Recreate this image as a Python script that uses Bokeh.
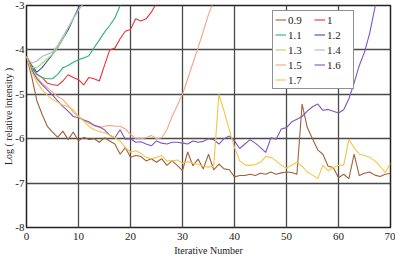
from bokeh.plotting import figure
from bokeh.models import Legend, LegendItem, Range1d, FixedTicker
from bokeh.embed import file_html
from bokeh.resources import INLINE

labels = ["0.9", "1", "1.1", "1.2", "1.3", "1.4", "1.5", "1.6", "1.7"]
colors = ["#A0603A", "#E8323C", "#2DB37A", "#3C4FA8", "#A6D96A",
          "#A9B8CC", "#F4A582", "#7E57C2", "#F6C445"]

s09 = [-4.15, -4.6, -5.15, -5.45, -5.72, -5.85, -5.97, -5.83, -6.02, -5.85,
       -6.05, -5.97, -6.02, -6.0, -6.08, -5.98, -6.05, -6.12, -6.35, -6.2,
       -6.42, -6.38, -6.4, -6.5, -6.45, -6.53, -6.45, -6.6, -6.5, -6.6,
       -6.72, -6.3, -6.61, -6.46, -6.68, -6.35, -6.7, -6.57, -6.68, -6.7,
       -6.86, -6.83, -6.83, -6.8, -6.83, -6.78, -6.8, -6.75, -6.8, -6.77,
       -6.75, -6.76, -6.8, -5.22, -5.75, -6.0, -6.25, -6.35, -6.62, -6.65,
       -6.88, -6.8, -6.9, -6.35, -6.83, -6.78, -6.75, -6.82, -6.85, -6.8, -6.78]
s10 = [-4.15, -4.4, -4.55, -4.62, -4.75, -4.78, -4.8, -4.7, -4.56, -4.62,
       -4.67, -4.79, -4.62, -4.65, -4.7, -4.35, -4.0, -3.96, -3.75, -3.58,
       -3.54, -3.3, -3.35, -3.3, -3.15, -2.95]
s11 = [-4.15, -4.4, -4.55, -4.62, -4.65, -4.65, -4.55, -4.4, -4.35, -4.28,
       -4.22, -4.18, -4.13, -3.95, -3.78, -3.6, -3.45, -3.28, -3.0, -2.8]
s12 = [-4.15, -4.35, -4.5, -4.4, -4.25, -4.1, -3.95, -3.75, -3.55, -3.3,
       -3.05, -2.8]
s13 = [-4.15, -4.4, -4.4, -4.3, -4.2, -4.1, -3.95, -3.75, -3.5, -3.3,
       -3.1, -2.95]
s14 = [-4.15, -4.3, -4.25, -4.15, -4.1, -4.05, -3.9, -3.7, -3.5, -3.3,
       -3.1, -2.95]
s15 = [-4.15, -4.45, -4.62, -4.75, -4.85, -4.95, -5.05, -5.12, -5.25, -5.4,
       -5.5, -5.58, -5.65, -5.7, -5.75, -5.72, -5.7, -5.72, -5.72, -5.78,
       -5.9, -6.0, -6.0, -5.98, -5.93, -6.0, -5.98, -5.8, -5.5, -5.25,
       -5.0, -4.65, -4.3, -3.95, -3.58, -3.2, -2.9]
s16 = [-4.15, -4.45, -4.65, -4.78, -4.9, -5.02, -5.15, -5.27, -5.38, -5.5,
       -5.53, -5.58, -5.62, -5.7, -5.73, -5.8, -5.92, -5.98, -5.8, -6.01,
       -6.0, -6.08, -6.07, -6.12, -6.16, -6.05, -6.1, -6.12, -6.08, -6.08,
       -6.1, -6.12, -6.05, -6.08, -6.06, -6.0, -6.02, -6.12, -6.0, -5.94,
       -6.05, -6.22, -6.12, -6.02, -6.1, -6.2, -6.31, -5.98, -6.01, -5.78,
       -5.75, -5.62, -5.56, -5.5, -5.38, -5.28, -5.22, -5.36, -5.34, -5.38,
       -5.42, -5.35, -5.1, -4.75, -4.35, -4.05, -3.62, -3.05, -2.5]
s17 = [-4.15, -4.5, -4.72, -4.9, -5.02, -5.12, -5.18, -5.24, -5.28, -5.35,
       -5.5, -5.6, -5.72, -5.8, -5.84, -5.86, -5.92, -5.98, -6.05, -6.2,
       -6.3, -6.27, -6.33, -6.42, -6.45, -6.42, -6.38, -6.5, -6.5, -6.48,
       -6.55, -6.52, -6.55, -6.58, -6.62, -6.64, -6.62, -5.0, -5.38, -5.8,
       -6.2, -6.5, -6.59, -6.6, -6.58, -6.53, -6.4, -6.42, -6.5, -6.6,
       -6.66, -6.6, -6.53, -6.62, -6.75, -6.82, -6.9, -6.6, -6.72, -6.65,
       -6.6, -6.59, -6.02, -6.2, -6.35, -6.38, -6.42, -6.5, -6.62, -6.76, -6.55]

series = [s09, s10, s11, s12, s13, s14, s15, s16, s17]

x_ticks = [0, 10, 20, 30, 40, 50, 60, 70]
y_ticks = [-8, -7, -6, -5, -4, -3]
y_tick_labels = ["-8", "-7", "-6", "-5", "-4", "-3"]

FONT = "Liberation Serif"

p = figure(width=395, height=258, output_backend="svg", toolbar_location=None,
           x_range=Range1d(0, 70), y_range=Range1d(-8, -3),
           min_border_left=0, min_border_right=5, min_border_top=5,
           min_border_bottom=2)
p.background_fill_color = "white"
p.border_fill_color = "white"
p.outline_line_color = "#222222"
p.outline_line_width = 1.5

renderers = []
for ys, c in zip(series, colors):
    xs = list(range(len(ys)))
    r = p.line(xs, ys, line_color=c, line_width=1.1)
    renderers.append(r)

for ax in (p.xaxis[0], p.yaxis[0]):
    ax.major_label_text_font = FONT
    ax.major_label_text_font_size = "11px"
    ax.major_label_text_color = "#222222"
    ax.axis_label_text_font = FONT
    ax.axis_label_text_font_style = "normal"
    ax.axis_label_text_font_size = "10px"
    ax.axis_label_text_color = "#222222"
    ax.major_tick_line_color = None
    ax.minor_tick_line_color = None
    ax.major_tick_out = 0
    ax.major_tick_in = 0
    ax.minor_tick_out = 0
    ax.minor_tick_in = 0
    ax.axis_line_color = None

p.xaxis[0].ticker = FixedTicker(ticks=x_ticks)
p.yaxis[0].ticker = FixedTicker(ticks=y_ticks)
p.yaxis[0].major_label_overrides = dict(zip(y_ticks, y_tick_labels))
p.xaxis[0].axis_label = "Iterative Number"
p.yaxis[0].axis_label = "Log ( relative intensity )"
p.xaxis[0].major_label_standoff = 5
p.xaxis[0].axis_label_standoff = 2
p.yaxis[0].major_label_standoff = 2
p.yaxis[0].axis_label_standoff = -2

p.xgrid[0].ticker = FixedTicker(ticks=x_ticks)
p.ygrid[0].ticker = FixedTicker(ticks=y_ticks)
for g in (p.xgrid[0], p.ygrid[0]):
    g.grid_line_color = "#4a4a4a"
    g.grid_line_width = 1.3
    g.grid_line_alpha = 1.0

order = [0, 2, 4, 6, 8, 1, 3, 5, 7]
items = [LegendItem(label=labels[i], renderers=[renderers[i]]) for i in order]
legend = Legend(items=items, location=(246, 138), nrows=5,
                label_text_font=FONT, label_text_font_size="11px",
                label_text_color="#222222",
                glyph_width=11, glyph_height=13, label_standoff=2,
                label_width=24,
                spacing=2, padding=2, margin=0,
                label_height=13,
                border_line_color="#222222", border_line_width=1.2,
                background_fill_alpha=1.0)
p.add_layout(legend, "center")

open("out.html", "w").write(file_html(p, INLINE))
